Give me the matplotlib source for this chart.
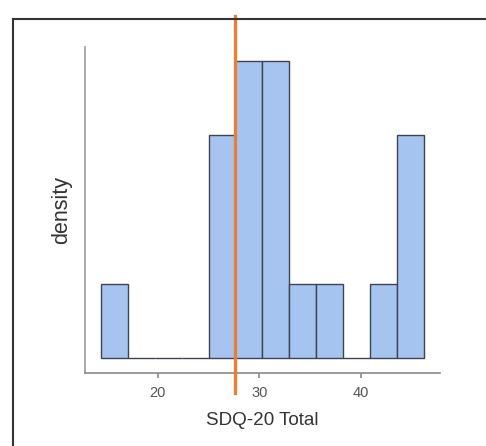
import numpy as np
import matplotlib.pyplot as plt
from matplotlib.lines import Line2D

# histogram (12 bins)
bin_edges = [14.42, 17.06, 19.71, 22.35, 25.0, 27.64, 30.28,
             32.93, 35.57, 38.22, 40.86, 43.5, 46.15]
counts = [1, 0, 0, 0, 3, 4, 4, 1, 1, 0, 1, 3]
mean_line = 27.6
x_ticks = [20, 30, 40]

plt.rcParams['font.family'] = ['Liberation Sans', 'DejaVu Sans']

fig = plt.figure(figsize=(4.86, 4.46), dpi=100)
ax = fig.add_axes([0.1749, 0.1643, 0.7304, 0.731])

edges = np.array(bin_edges)
ax.hist(edges[:-1], bins=edges, weights=counts,
        color='#a6c4f0', edgecolor='#3d4450', linewidth=1.0)

ax.set_xlim(12.85, 47.76)
ax.set_ylim(-0.194, 4.19)

ax.axvline(mean_line, ymin=-0.062, ymax=1.094, color='#ed7d31',
           linewidth=2.4, clip_on=False, zorder=5)

for s in ['top', 'right']:
    ax.spines[s].set_visible(False)
ax.spines['left'].set_color('#9a9a9a')
ax.spines['bottom'].set_color('#8a8a8a')
ax.spines['left'].set_linewidth(1.2)
ax.spines['bottom'].set_linewidth(1.2)

ax.set_yticks([])
ax.set_xticks(x_ticks)
ax.tick_params(axis='x', length=3.5, width=1.2, color='#8a8a8a',
               labelcolor='#555555', labelsize=10.5, pad=6)

ax.set_xlabel('SDQ-20 Total', fontsize=13.6, color='#333333', labelpad=9)
ax.set_ylabel('density', fontsize=15.5, color='#333333', labelpad=9)

# outer frame (left and top edges)
fx = 13.3 / 486
fy = 1 - 19 / 446
fig.add_artist(Line2D([fx, 1.05], [fy, fy], color='#333333', linewidth=1.5,
                      transform=fig.transFigure, zorder=1))
fig.add_artist(Line2D([fx, fx], [-0.05, fy], color='#333333', linewidth=1.5,
                      transform=fig.transFigure, zorder=1))

fig.savefig('out.png', dpi=100)
